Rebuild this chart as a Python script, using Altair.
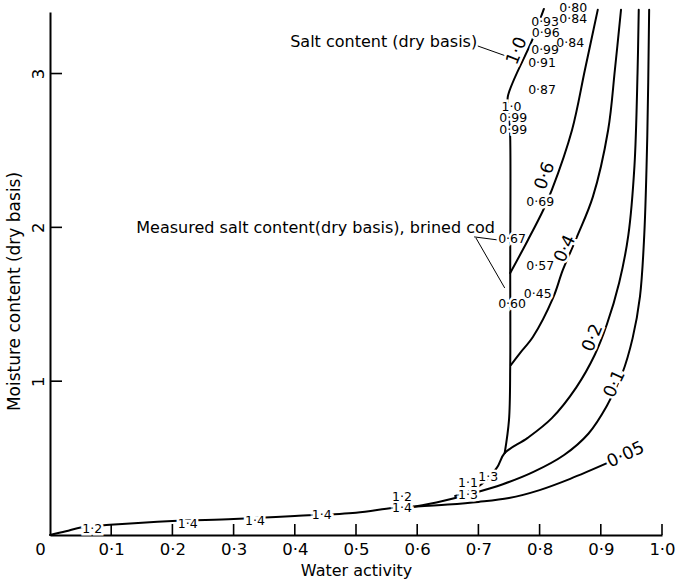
import altair as alt
import pandas as pd

FONT = "DejaVu Sans"

# ---- curves: water activity (x) vs moisture content, dry basis (y) ----
trunk_x = [0.000, 0.026, 0.052, 0.098, 0.200, 0.300, 0.400, 0.500, 0.560, 0.594]
trunk_y = [0.000, 0.024, 0.050, 0.066, 0.091, 0.104, 0.124, 0.145, 0.176, 0.184]

c005_x = [0.594, 0.650, 0.700, 0.750, 0.800, 0.850, 0.912]
c005_y = [0.184, 0.198, 0.215, 0.240, 0.292, 0.365, 0.470]

c01_x = [0.594, 0.640, 0.690, 0.740, 0.790, 0.840, 0.880, 0.910, 0.935, 0.952, 0.964, 0.971, 0.976, 0.979]
c01_y = [0.184, 0.220, 0.270, 0.330, 0.410, 0.520, 0.660, 0.840, 1.050, 1.280, 1.550, 1.950, 2.600, 3.414]

c02_x = [0.662, 0.699, 0.730, 0.743, 0.780, 0.820, 0.860, 0.890, 0.910, 0.930, 0.945, 0.955, 0.960, 0.962]
c02_y = [0.254, 0.312, 0.436, 0.533, 0.630, 0.760, 0.960, 1.170, 1.370, 1.640, 1.950, 2.400, 3.000, 3.414]

c04_x = [0.753, 0.768, 0.789, 0.822, 0.838, 0.861, 0.887, 0.912, 0.923, 0.933]
c04_y = [1.105, 1.183, 1.287, 1.541, 1.723, 1.938, 2.198, 2.633, 3.023, 3.414]

c06_x = [0.752, 0.781, 0.806, 0.820, 0.853, 0.874, 0.895]
c06_y = [1.703, 1.918, 2.113, 2.243, 2.633, 3.023, 3.414]

c10_x = [0.743, 0.750, 0.752, 0.752, 0.752, 0.750, 0.748, 0.788, 0.807]
c10_y = [0.533, 0.748, 1.105, 1.703, 2.581, 2.763, 2.848, 3.218, 3.420]

# ---- measured salt contents (small labels) ----
small_text = ["0·80", "0·93", "0·84", "0·96", "0·84", "0·99", "0·91", "0·87",
              "1·0", "0·99", "0·99", "0·69", "0·67", "0·57", "0·45", "0·60",
              "1·2", "1·4", "1·4", "1·4", "1·2", "1·4", "1·1", "1·3", "1·3"]
small_x = [0.855, 0.809, 0.855, 0.810, 0.850, 0.809, 0.804, 0.804,
           0.754, 0.757, 0.757, 0.801, 0.755, 0.801, 0.797, 0.755,
           0.069, 0.225, 0.335, 0.444, 0.575, 0.575, 0.683, 0.716, 0.683]
small_y = [3.427, 3.336, 3.355, 3.264, 3.199, 3.153, 3.069, 2.893,
           2.783, 2.711, 2.633, 2.165, 1.925, 1.749, 1.567, 1.502,
           0.039, 0.072, 0.091, 0.130, 0.247, 0.176, 0.338, 0.377, 0.260]

# ---- curve labels: salt content (large labels) ----
big_text = ["1·0", "0·6", "0·4", "0·2", "0·1", "0·05"]
big_x = [0.763, 0.809, 0.842, 0.887, 0.923, 0.941]
big_y = [3.147, 2.334, 1.860, 1.281, 0.982, 0.520]
big_angle = [292, 290, 295, 292, 295, 335]

# ---- annotations ----
note_text = ["Salt content (dry basis)", "Measured salt content(dry basis), brined cod"]
note_x = [0.698, 0.727]
note_y = [3.205, 1.996]

lead_x = [0.699, 0.693, 0.696]
lead_y = [3.179, 1.938, 1.931]
lead_x2 = [0.745, 0.732, 0.743]
lead_y2 = [3.114, 1.918, 1.606]

x_ticks = [0.0, 0.1, 0.2, 0.3, 0.4, 0.5, 0.6, 0.7, 0.8, 0.9, 1.0]
y_ticks = [1, 2, 3]

W, H = 612, 523

# ---- build tables ----
rows = []
for name, xs_, ys_ in [("trunk", trunk_x, trunk_y), ("0.05", c005_x, c005_y),
                       ("0.1", c01_x, c01_y), ("0.2", c02_x, c02_y),
                       ("0.4", c04_x, c04_y), ("0.6", c06_x, c06_y),
                       ("1.0", c10_x, c10_y)]:
    for i, (a, b) in enumerate(zip(xs_, ys_)):
        rows.append({"series": name, "i": i, "aw": a, "m": b})
lines_df = pd.DataFrame(rows)
small_df = pd.DataFrame({"t": small_text, "aw": small_x, "m": small_y})
big_df = pd.DataFrame({"t": big_text, "aw": big_x, "m": big_y, "ang": big_angle})
note_df = pd.DataFrame({"t": note_text, "aw": note_x, "m": note_y})
lead_df = pd.DataFrame({"aw": lead_x, "m": lead_y, "aw2": lead_x2, "m2": lead_y2})
xt_df = pd.DataFrame({"aw": x_ticks[1:]})
yt_df = pd.DataFrame({"m": y_ticks})

xs = alt.Scale(domain=[0, 1], nice=False, zero=False)
ys = alt.Scale(domain=[0, 3.40], nice=False, zero=False)

x_axis = alt.Axis(
    values=x_ticks,
    labelExpr="datum.value == 0 ? '0' : replace(format(datum.value, '.1f'), '.', '·')",
    labelOffset={"condition": {"test": "datum.value == 0", "value": -10}, "value": 0},
    ticks=False, grid=False, domainColor="black", domainWidth=2,
    labelFont=FONT, labelFontSize=16.5, labelColor="black", labelPadding=6,
    labelFlush=False, labelOverlap=False,
    title="Water activity", titleFont=FONT, titleFontSize=16, titleFontWeight="normal",
    titleColor="black", titleY=27,
)
y_axis = alt.Axis(
    values=y_ticks, ticks=False, grid=False, domainColor="black", domainWidth=2,
    labelExpr="format(datum.value, 'd')",
    labelFont=FONT, labelFontSize=16.5, labelColor="black", labelPadding=4,
    labelAngle=270, labelAlign="center", labelBaseline="bottom",
    title="Moisture content (dry basis)", titleFont=FONT, titleFontSize=17,
    titleFontWeight="normal", titleColor="black", titleX=-36, titleY=279,
    titleAngle=270, titleAlign="center", titleBaseline="middle",
)

base_x = alt.X("aw:Q", scale=xs, axis=x_axis)
base_y = alt.Y("m:Q", scale=ys, axis=y_axis)

curves = alt.Chart(lines_df).mark_line(
    color="black", strokeWidth=2, interpolate="catmull-rom", strokeCap="round"
).encode(x=base_x, y=base_y, detail="series:N", order="i:Q")

xticks = alt.Chart(xt_df).mark_rule(color="black", strokeWidth=1.6).encode(
    x=alt.X("aw:Q", scale=xs), y=alt.value(H), y2=alt.value(H - 11))
yticks = alt.Chart(yt_df).mark_rule(color="black", strokeWidth=1.6).encode(
    y=alt.Y("m:Q", scale=ys), x=alt.value(0), x2=alt.value(12))

leaders = alt.Chart(lead_df).mark_rule(color="black", strokeWidth=1).encode(
    x=alt.X("aw:Q", scale=xs), y=alt.Y("m:Q", scale=ys),
    x2="aw2:Q", y2="m2:Q")

small_halo = alt.Chart(small_df).mark_text(
    font=FONT, fontSize=12.5, fill="white", stroke="white", strokeWidth=5,
    align="center", baseline="middle").encode(
    x=alt.X("aw:Q", scale=xs), y=alt.Y("m:Q", scale=ys), text="t:N")
small_txt = alt.Chart(small_df).mark_text(
    font=FONT, fontSize=12.5, color="black", align="center", baseline="middle").encode(
    x=alt.X("aw:Q", scale=xs), y=alt.Y("m:Q", scale=ys), text="t:N")

big_halo = alt.Chart(big_df).mark_text(
    font=FONT, fontSize=17.5, fill="white", stroke="white", strokeWidth=5,
    align="center", baseline="middle").encode(
    x=alt.X("aw:Q", scale=xs), y=alt.Y("m:Q", scale=ys), text="t:N",
    angle=alt.Angle("ang:Q", scale=None))
big_txt = alt.Chart(big_df).mark_text(
    font=FONT, fontSize=17.5, color="black", align="center", baseline="middle").encode(
    x=alt.X("aw:Q", scale=xs), y=alt.Y("m:Q", scale=ys), text="t:N",
    angle=alt.Angle("ang:Q", scale=None))

notes = alt.Chart(note_df).mark_text(
    font=FONT, fontSize=16, color="black", align="right", baseline="middle").encode(
    x=alt.X("aw:Q", scale=xs), y=alt.Y("m:Q", scale=ys), text="t:N")

chart = alt.layer(
    curves, xticks, yticks, leaders, small_halo, big_halo, small_txt, big_txt, notes
).properties(
    width=W, height=H,
    autosize=alt.AutoSizeParams(type="none"),
    padding={"left": 50, "top": 12, "right": 15, "bottom": 45},
    background="white",
).configure_view(stroke=None)

chart.save("out.html", embed_options={"renderer": "svg", "actions": False})
